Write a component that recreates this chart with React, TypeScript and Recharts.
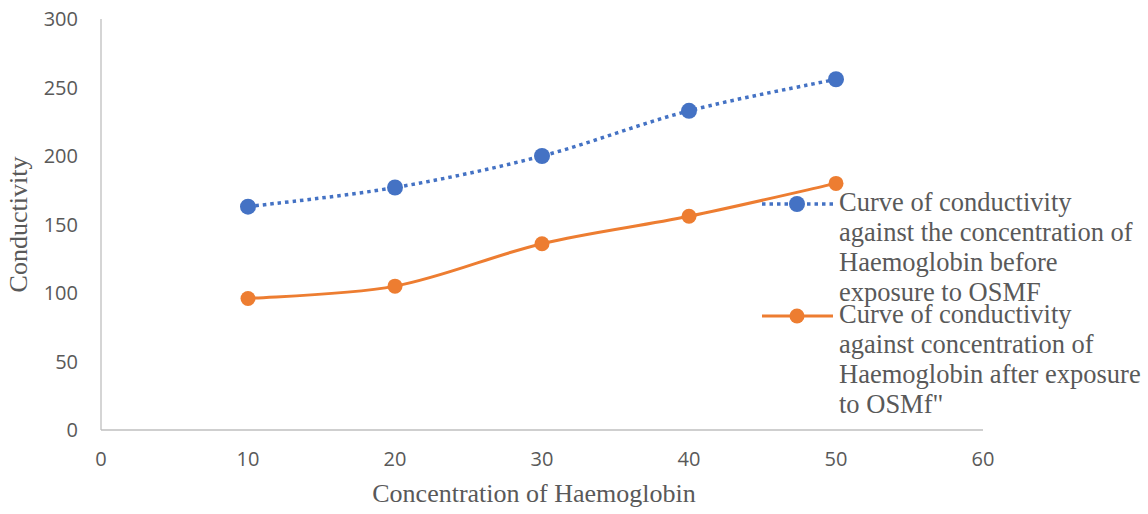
import React from 'react';
import { LineChart, Line, XAxis, YAxis } from 'recharts';

const concentration = [10, 20, 30, 40, 50];
const beforeOSMF = [163, 177, 200, 233, 256];
const afterOSMF = [96, 105, 136, 156, 180];
const xTicks = [0, 10, 20, 30, 40, 50, 60];
const yTicks = [0, 50, 100, 150, 200, 250, 300];

const beforeName = [
  'Curve of conductivity',
  'against the concentration of',
  'Haemoglobin before',
  'exposure to OSMF'
];
const afterName = [
  'Curve of conductivity',
  'against concentration of',
  'Haemoglobin after exposure',
  'to OSMf"'
];

const data = concentration.map((c, i) => ({
  concentration: c,
  before: beforeOSMF[i],
  after: afterOSMF[i]
}));

const BLUE = '#4472C4';
const ORANGE = '#ED7D31';
const TEXT = '#595959';
const AXIS = '#BFBFBF';
const SERIF = '"Liberation Serif", "Times New Roman", serif';
const SANS = '"Open Sans", "Noto Sans", sans-serif';

// excel-like smoothed line (catmull-rom as cubic bezier)
const excelSmooth = (context: any) => {
  let pts: [number, number][] = [];
  return {
    areaStart() {},
    areaEnd() {},
    lineStart() {
      pts = [];
    },
    point(x: number, y: number) {
      pts.push([+x, +y]);
    },
    lineEnd() {
      if (!pts.length) return;
      context.moveTo(pts[0][0], pts[0][1]);
      for (let i = 0; i < pts.length - 1; i++) {
        const p0 = pts[i - 1] || pts[i];
        const p1 = pts[i];
        const p2 = pts[i + 1];
        const p3 = pts[i + 2] || p2;
        context.bezierCurveTo(
          p1[0] + (p2[0] - p0[0]) / 6,
          p1[1] + (p2[1] - p0[1]) / 6,
          p2[0] - (p3[0] - p1[0]) / 6,
          p2[1] - (p3[1] - p1[1]) / 6,
          p2[0],
          p2[1]
        );
      }
    }
  };
};

const LegendItem = ({ color, dashed, lines, style }: any) => (
  <div style={{ display: 'flex', alignItems: 'flex-start', ...style }}>
    <svg width={71} height={30} style={{ flex: 'none' }}>
      <line
        x1={0}
        x2={71}
        y1={17}
        y2={17}
        stroke={color}
        strokeWidth={dashed ? 3.5 : 3}
        strokeDasharray={dashed ? '3.5 4' : undefined}
      />
      <circle cx={35} cy={17} r={dashed ? 8 : 7.5} fill={color} />
    </svg>
    <div
      style={{
        paddingLeft: 6,
        fontFamily: SERIF,
        fontSize: 26.5,
        lineHeight: '30px',
        color: TEXT,
        whiteSpace: 'nowrap'
      }}
    >
      {lines.map((l: string, i: number) => (
        <div key={i}>{l}</div>
      ))}
    </div>
  </div>
);

export default function App() {
  return (
    <div style={{ position: 'relative', width: 1148, height: 514, background: '#fff' }}>
      <style>{'body{margin:0}'}</style>
      <LineChart
        width={1148}
        height={514}
        data={data}
        margin={{ top: 19, right: 165, bottom: 0, left: 0 }}
      >
        <XAxis
          dataKey="concentration"
          type="number"
          domain={[0, 60]}
          ticks={xTicks}
          height={84}
          tickLine={false}
          tickSize={0}
          tickMargin={22}
          axisLine={{ stroke: AXIS, strokeWidth: 1.3 }}
          tick={{ fill: TEXT, fontSize: 20, fontFamily: SANS }}
          label={{
            content: ({ viewBox }: any) => (
              <text
                x={viewBox.x + viewBox.width / 2 - 8}
                y={viewBox.y + 72}
                textAnchor="middle"
                fill={TEXT}
                fontFamily={SERIF}
                fontSize={26}
              >
                Concentration of Haemoglobin
              </text>
            )
          }}
        />
        <YAxis
          type="number"
          domain={[0, 300]}
          ticks={yTicks}
          width={101}
          tickLine={false}
          tickSize={0}
          tickMargin={23}
          axisLine={{ stroke: AXIS, strokeWidth: 1.3 }}
          tick={{ fill: TEXT, fontSize: 20, fontFamily: SANS }}
          label={{
            content: ({ viewBox }: any) => {
              const x = viewBox.x + 27;
              const y = viewBox.y + viewBox.height / 2;
              return (
                <text
                  x={x}
                  y={y}
                  transform={`rotate(-90, ${x}, ${y})`}
                  textAnchor="middle"
                  fill={TEXT}
                  fontFamily={SERIF}
                  fontSize={26}
                >
                  Conductivity
                </text>
              );
            }
          }}
        />
        <Line
          dataKey="before"
          name={beforeName.join(' ')}
          type={excelSmooth as any}
          stroke={BLUE}
          strokeWidth={3.5}
          strokeDasharray="3.5 4"
          dot={{ r: 8, fill: BLUE, stroke: BLUE, strokeWidth: 0, strokeDasharray: '' }}
          activeDot={false}
          isAnimationActive={false}
        />
        <Line
          dataKey="after"
          name={afterName.join(' ')}
          type={excelSmooth as any}
          stroke={ORANGE}
          strokeWidth={3}
          dot={{ r: 7.5, fill: ORANGE, stroke: ORANGE, strokeWidth: 0 }}
          activeDot={false}
          isAnimationActive={false}
        />
      </LineChart>
      <div style={{ position: 'absolute', left: 762, top: 187 }}>
        <LegendItem color={BLUE} dashed lines={beforeName} />
        <LegendItem color={ORANGE} lines={afterName} style={{ marginTop: -8 }} />
      </div>
    </div>
  );
}
